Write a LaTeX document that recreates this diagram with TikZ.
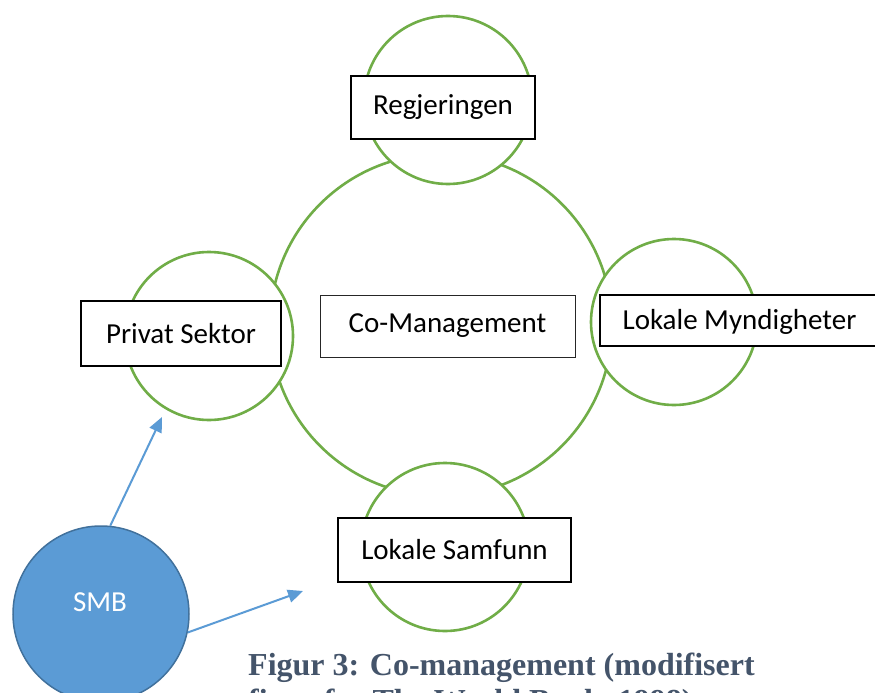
\documentclass[tikz,border=0pt]{standalone}
\usepackage{fontspec}
\setmainfont{Carlito}
\newfontfamily\captionfont{Liberation Serif}
\usetikzlibrary{arrows.meta}
\definecolor{ringgreen}{HTML}{70AD47}
\definecolor{smbblue}{HTML}{5B9BD5}
\definecolor{smbedge}{HTML}{41719C}
\definecolor{captionblue}{HTML}{44546A}
\tikzset{
  ring/.style={circle, draw=ringgreen, line width=2.6pt, fill=white, inner sep=0pt},
  labelbox/.style={draw=black, line width=2pt, fill=white, inner sep=0pt,
    font=\fontsize{29}{34}\selectfont},
  centrebox/.style={draw=black!85, line width=1pt, fill=white, inner sep=0pt,
    font=\fontsize{29}{34}\selectfont},
  pointer/.style={draw=smbblue, line width=2pt, -{Triangle[length=15pt,width=13pt]}},
}
\begin{document}
\begin{tikzpicture}[x=1pt,y=-1pt]
\clip (0,0) rectangle (875,693);
\fill[white] (0,0) rectangle (875,693);

% central ring
\node[ring, minimum size=342pt] (core) at (441,325) {};

% four partner rings
\node[ring, minimum size=168pt] (ringtop)    at (448,100) {};
\node[ring, minimum size=168pt] (ringleft)   at (209,336) {};
\node[ring, minimum size=166pt] (ringright)  at (674,322) {};
\node[ring, minimum size=168pt] (ringbottom) at (445,547) {};

% labels
\node[labelbox, minimum width=184pt, minimum height=63pt] (gov) at (443,107.5) {Regjeringen};
\node[labelbox, minimum width=200pt, minimum height=65pt] (private) at (181,333.5) {Privat Sektor};
\node[centrebox, minimum width=255pt, minimum height=62pt] (comgmt) at (447.5,326) {Co-Management};
\node[labelbox, minimum width=300pt, minimum height=51pt, anchor=west] (local) at (599,320.5) {};
\node[font=\fontsize{29}{34}\selectfont] (localtext) at (739.5,322) {Lokale Myndigheter};
\node[labelbox, minimum width=233pt, minimum height=64pt] (community) at (454.5,550) {Lokale Samfunn};

% SMB and its arrows
\node[circle, fill=smbblue, draw=smbedge, line width=1.5pt, minimum size=176pt,
      inner sep=0pt] (smb) at (101,614) {};
\node[text=white, font=\fontsize{29}{34}\selectfont] (smbtext) at (100,602) {SMB};
\coordinate (tipA) at (162,417);
\coordinate (tipB) at (303,591);
\draw[pointer] (smb.84) -- (tipA);
\draw[pointer] (smb.-12) -- (tipB);

% caption
\node[anchor=base west, inner sep=0pt, text=captionblue,
      font=\captionfont\bfseries\fontsize{32}{36}\selectfont] (cap1) at (248,675)
      {Figur 3: Co-management (modifisert};
\node[anchor=base west, inner sep=0pt, text=captionblue,
      font=\captionfont\bfseries\fontsize{32}{36}\selectfont] (cap2) at (248,711)
      {figur fra The World Bank, 1998)};
\end{tikzpicture}
\end{document}
